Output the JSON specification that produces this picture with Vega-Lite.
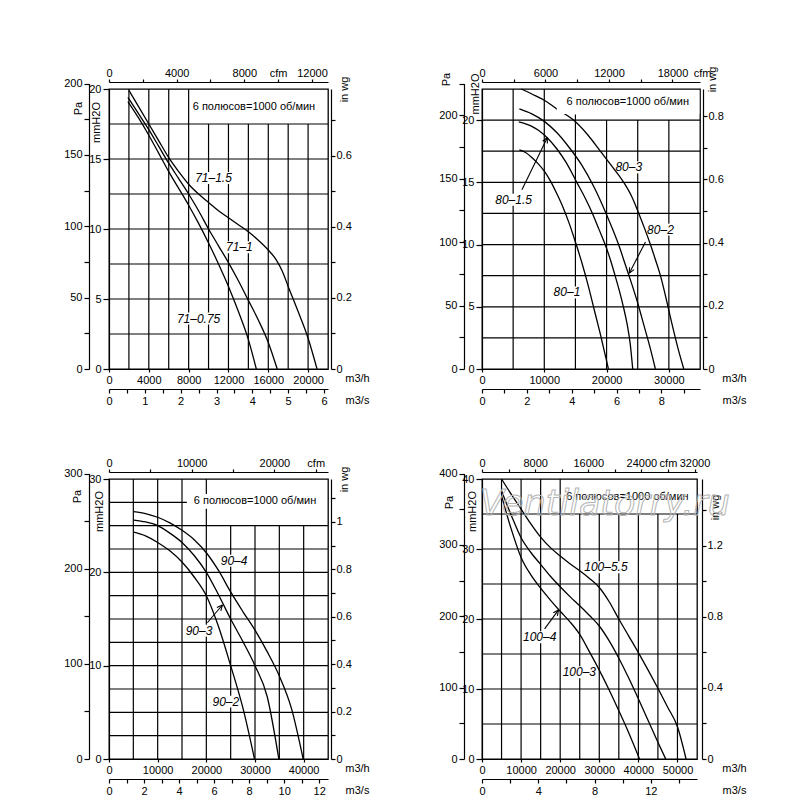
{
  "$schema": "https://vega.github.io/schema/vega-lite/v6.json",
  "padding": {"left": 62, "top": 65, "right": 5, "bottom": 5},
  "background": "white",
  "config": {
    "font": "Liberation Sans",
    "view": {"stroke": "black", "strokeWidth": 1.3},
    "axis": {
      "grid": false, "domainColor": "black", "tickColor": "black", "labelColor": "black", "titleColor": "black",
      "labelFont": "Liberation Sans", "titleFont": "Liberation Sans", "labelFontSize": 11, "titleFontSize": 11,
      "titleFontWeight": "normal", "labelFlush": false, "labelOverlap": false, "domainWidth": 1.2, "tickWidth": 1.2,
      "titleAlign": "center", "titleBaseline": "middle"
    },
    "text": {"font": "Liberation Sans", "color": "black"}
  },
  "datasets": {
    "ax": [{"v": 0, "w": 0}],
    "p1v": [
      {"x": 2000, "y1": 0, "y2": 20}, {"x": 4000, "y1": 0, "y2": 20}, {"x": 6000, "y1": 0, "y2": 20}, {"x": 8000, "y1": 0, "y2": 20},
      {"x": 10000, "y1": 0, "y2": 17.5}, {"x": 12000, "y1": 0, "y2": 17.5}, {"x": 14000, "y1": 0, "y2": 17.5},
      {"x": 16000, "y1": 0, "y2": 17.5}, {"x": 18000, "y1": 0, "y2": 17.5}, {"x": 20000, "y1": 0, "y2": 17.5}
    ],
    "p1h": [
      {"y": 2.5, "x1": 0, "x2": 22000}, {"y": 5, "x1": 0, "x2": 22000}, {"y": 7.5, "x1": 0, "x2": 22000}, {"y": 10, "x1": 0, "x2": 22000},
      {"y": 12.5, "x1": 0, "x2": 22000}, {"y": 15, "x1": 0, "x2": 22000}, {"y": 17.5, "x1": 0, "x2": 22000}
    ],
    "p1b": [
      {"x1": 8540, "x2": 12460, "y1": 13.22, "y2": 14.08},
      {"x1": 11643, "x2": 14557, "y1": 8.27, "y2": 9.13},
      {"x1": 6720, "x2": 11280, "y1": 3.17, "y2": 4.03}
    ],
    "p1c": [
      {"c": "a", "q": 2000, "p": 19.9}, {"c": "a", "q": 3000, "p": 18.7}, {"c": "a", "q": 4000, "p": 17.5}, {"c": "a", "q": 5000, "p": 16.3},
      {"c": "a", "q": 6000, "p": 15.1}, {"c": "a", "q": 7000, "p": 14.1}, {"c": "a", "q": 8000, "p": 13.2}, {"c": "a", "q": 9000, "p": 12.5},
      {"c": "a", "q": 10000, "p": 11.9}, {"c": "a", "q": 11000, "p": 11.3}, {"c": "a", "q": 12000, "p": 10.8}, {"c": "a", "q": 13000, "p": 10.3},
      {"c": "a", "q": 14000, "p": 9.8}, {"c": "a", "q": 15000, "p": 9.2}, {"c": "a", "q": 16000, "p": 8.5}, {"c": "a", "q": 16800, "p": 7.8},
      {"c": "a", "q": 17400, "p": 7.0}, {"c": "a", "q": 18000, "p": 5.9}, {"c": "a", "q": 19000, "p": 4.1}, {"c": "a", "q": 20000, "p": 2.2},
      {"c": "a", "q": 20900, "p": 0},
      {"c": "b", "q": 1900, "p": 19.4}, {"c": "b", "q": 3000, "p": 18.2}, {"c": "b", "q": 4000, "p": 17.1}, {"c": "b", "q": 5000, "p": 15.9},
      {"c": "b", "q": 6000, "p": 14.7}, {"c": "b", "q": 7000, "p": 13.6}, {"c": "b", "q": 8000, "p": 12.5}, {"c": "b", "q": 9000, "p": 11.3},
      {"c": "b", "q": 10000, "p": 10.0}, {"c": "b", "q": 11000, "p": 8.8}, {"c": "b", "q": 12000, "p": 7.6}, {"c": "b", "q": 13000, "p": 6.3},
      {"c": "b", "q": 14000, "p": 4.9}, {"c": "b", "q": 15000, "p": 3.5}, {"c": "b", "q": 16000, "p": 1.9}, {"c": "b", "q": 16900, "p": 0},
      {"c": "c", "q": 1900, "p": 19.1}, {"c": "c", "q": 3000, "p": 17.9}, {"c": "c", "q": 4000, "p": 16.7}, {"c": "c", "q": 5000, "p": 15.4},
      {"c": "c", "q": 6000, "p": 14.1}, {"c": "c", "q": 7000, "p": 12.9}, {"c": "c", "q": 8000, "p": 11.7}, {"c": "c", "q": 9000, "p": 10.4},
      {"c": "c", "q": 10000, "p": 9.0}, {"c": "c", "q": 11000, "p": 7.5}, {"c": "c", "q": 12000, "p": 5.9}, {"c": "c", "q": 13000, "p": 4.1},
      {"c": "c", "q": 14000, "p": 2.1}, {"c": "c", "q": 14800, "p": 0}
    ],
    "p1t": [
      {"x": 10500, "y": 13.65, "t": "71–1.5"}, {"x": 13100, "y": 8.7, "t": "71–1"}, {"x": 9000, "y": 3.6, "t": "71–0.75"}
    ],
    "p2v": [
      {"x": 5000, "y1": 0, "y2": 22.5}, {"x": 10000, "y1": 0, "y2": 22.5}, {"x": 15000, "y1": 0, "y2": 20.45},
      {"x": 20000, "y1": 0, "y2": 20}, {"x": 25000, "y1": 0, "y2": 20}, {"x": 30000, "y1": 0, "y2": 20}
    ],
    "p2h": [
      {"y": 2.5, "x1": 0, "x2": 35000}, {"y": 5, "x1": 0, "x2": 35000}, {"y": 7.5, "x1": 0, "x2": 35000}, {"y": 10, "x1": 0, "x2": 35000},
      {"y": 12.5, "x1": 0, "x2": 35000}, {"y": 15, "x1": 0, "x2": 35000}, {"y": 17.5, "x1": 0, "x2": 35000}, {"y": 20, "x1": 0, "x2": 35000}
    ],
    "p2b": [
      {"x1": 21232, "x2": 25888, "y1": 15.72, "y2": 16.68},
      {"x1": 26322, "x2": 30978, "y1": 10.72, "y2": 11.68},
      {"x1": 11312, "x2": 15968, "y1": 5.67, "y2": 6.63},
      {"x1": 1945, "x2": 8205, "y1": 13.12, "y2": 14.08}
    ],
    "p2m": [{"x1": 12000, "x2": 34900, "y1": 20.5, "y2": 22.4}],
    "p2c": [
      {"c": "a", "q": 6300, "p": 22.5}, {"c": "a", "q": 8000, "p": 22.1}, {"c": "a", "q": 10000, "p": 21.6}, {"c": "a", "q": 12000, "p": 20.9},
      {"c": "a", "q": 14700, "p": 20.0}, {"c": "a", "q": 17000, "p": 18.8}, {"c": "a", "q": 19000, "p": 17.5}, {"c": "a", "q": 21000, "p": 16.2},
      {"c": "a", "q": 22750, "p": 15.0}, {"c": "a", "q": 24000, "p": 13.9}, {"c": "a", "q": 25170, "p": 12.5}, {"c": "a", "q": 26100, "p": 11.3},
      {"c": "a", "q": 27040, "p": 10.0}, {"c": "a", "q": 27900, "p": 8.7}, {"c": "a", "q": 28650, "p": 7.5}, {"c": "a", "q": 29400, "p": 6.0},
      {"c": "a", "q": 30000, "p": 4.7}, {"c": "a", "q": 30700, "p": 3.2}, {"c": "a", "q": 31500, "p": 1.6}, {"c": "a", "q": 32400, "p": 0},
      {"c": "b", "q": 6000, "p": 20.9}, {"c": "b", "q": 8000, "p": 20.5}, {"c": "b", "q": 10000, "p": 19.9}, {"c": "b", "q": 12000, "p": 19.0},
      {"c": "b", "q": 14000, "p": 17.8}, {"c": "b", "q": 16000, "p": 16.4}, {"c": "b", "q": 18000, "p": 14.6}, {"c": "b", "q": 20000, "p": 12.4},
      {"c": "b", "q": 22000, "p": 9.9}, {"c": "b", "q": 23000, "p": 8.4}, {"c": "b", "q": 24000, "p": 6.9}, {"c": "b", "q": 25000, "p": 5.3},
      {"c": "b", "q": 26000, "p": 3.5}, {"c": "b", "q": 27000, "p": 1.7}, {"c": "b", "q": 27840, "p": 0},
      {"c": "c", "q": 5900, "p": 19.85}, {"c": "c", "q": 7000, "p": 19.7}, {"c": "c", "q": 8000, "p": 19.5}, {"c": "c", "q": 9000, "p": 19.2},
      {"c": "c", "q": 10430, "p": 18.6}, {"c": "c", "q": 12000, "p": 17.7}, {"c": "c", "q": 13500, "p": 16.6}, {"c": "c", "q": 15220, "p": 15.0},
      {"c": "c", "q": 16500, "p": 13.8}, {"c": "c", "q": 17730, "p": 12.5}, {"c": "c", "q": 18800, "p": 11.2}, {"c": "c", "q": 19770, "p": 10.0},
      {"c": "c", "q": 20600, "p": 8.8}, {"c": "c", "q": 21370, "p": 7.5}, {"c": "c", "q": 22100, "p": 6.2}, {"c": "c", "q": 22700, "p": 5.0},
      {"c": "c", "q": 23300, "p": 3.6}, {"c": "c", "q": 23800, "p": 2.0}, {"c": "c", "q": 24200, "p": 0},
      {"c": "d", "q": 6000, "p": 17.6}, {"c": "d", "q": 7000, "p": 17.4}, {"c": "d", "q": 8000, "p": 17.0}, {"c": "d", "q": 9000, "p": 16.5},
      {"c": "d", "q": 10000, "p": 15.9}, {"c": "d", "q": 11000, "p": 15.1}, {"c": "d", "q": 12000, "p": 14.1}, {"c": "d", "q": 13000, "p": 13.0},
      {"c": "d", "q": 14000, "p": 11.7}, {"c": "d", "q": 15000, "p": 10.2}, {"c": "d", "q": 16000, "p": 8.6}, {"c": "d", "q": 17000, "p": 6.8},
      {"c": "d", "q": 18000, "p": 4.8}, {"c": "d", "q": 19000, "p": 2.8}, {"c": "d", "q": 20300, "p": 0}
    ],
    "p2a": [
      {"x1": 6410, "y1": 14.4, "x2": 10500, "y2": 18.6}, {"x1": 10500, "y1": 18.6, "x2": 10484, "y2": 18.12}, {"x1": 10500, "y1": 18.6, "x2": 9753, "y2": 18.3},
      {"x1": 26240, "y1": 10.2, "x2": 23650, "y2": 7.7}, {"x1": 23650, "y1": 7.7, "x2": 23692, "y2": 8.18}, {"x1": 23650, "y1": 7.7, "x2": 24413, "y2": 7.99}
    ],
    "p2t": [
      {"x": 23560, "y": 16.2, "t": "80–3"}, {"x": 28650, "y": 11.2, "t": "80–2"}, {"x": 13640, "y": 6.15, "t": "80–1"}, {"x": 5075, "y": 13.6, "t": "80–1.5"}
    ],
    "p3v": [
      {"x": 5000, "y1": 0, "y2": 30}, {"x": 10000, "y1": 0, "y2": 30}, {"x": 15000, "y1": 0, "y2": 30}, {"x": 20000, "y1": 0, "y2": 30},
      {"x": 25000, "y1": 0, "y2": 25}, {"x": 30000, "y1": 0, "y2": 25}, {"x": 35000, "y1": 0, "y2": 25}, {"x": 40000, "y1": 0, "y2": 25}
    ],
    "p3h": [
      {"y": 2.5, "x1": 0, "x2": 45000}, {"y": 5, "x1": 0, "x2": 45000}, {"y": 7.5, "x1": 0, "x2": 45000}, {"y": 10, "x1": 0, "x2": 45000},
      {"y": 12.5, "x1": 0, "x2": 45000}, {"y": 15, "x1": 0, "x2": 45000}, {"y": 17.5, "x1": 0, "x2": 45000}, {"y": 20, "x1": 0, "x2": 45000},
      {"y": 22.5, "x1": 0, "x2": 45000}, {"y": 25, "x1": 0, "x2": 45000}, {"y": 27.5, "x1": 0, "x2": 16000}
    ],
    "p3b": [
      {"x1": 22721, "x2": 28679, "y1": 20.61, "y2": 21.89},
      {"x1": 15511, "x2": 21469, "y1": 13.11, "y2": 14.39},
      {"x1": 21021, "x2": 26979, "y1": 5.51, "y2": 6.79},
      {"x1": 16300, "x2": 43800, "y1": 26.8, "y2": 28.4}
    ],
    "p3c": [
      {"c": "a", "q": 5100, "p": 26.5}, {"c": "a", "q": 7500, "p": 26.3}, {"c": "a", "q": 10000, "p": 25.9}, {"c": "a", "q": 12500, "p": 25.3},
      {"c": "a", "q": 15000, "p": 24.5}, {"c": "a", "q": 17500, "p": 23.5}, {"c": "a", "q": 20000, "p": 22.1}, {"c": "a", "q": 22500, "p": 20.2},
      {"c": "a", "q": 25000, "p": 17.9}, {"c": "a", "q": 27500, "p": 15.8}, {"c": "a", "q": 30000, "p": 13.8}, {"c": "a", "q": 32500, "p": 11.5},
      {"c": "a", "q": 35000, "p": 8.9}, {"c": "a", "q": 37500, "p": 5.4}, {"c": "a", "q": 39900, "p": 0},
      {"c": "b", "q": 5100, "p": 25.6}, {"c": "b", "q": 7500, "p": 25.4}, {"c": "b", "q": 10000, "p": 25.0}, {"c": "b", "q": 12500, "p": 24.2},
      {"c": "b", "q": 15000, "p": 23.2}, {"c": "b", "q": 17500, "p": 21.8}, {"c": "b", "q": 20000, "p": 20.0}, {"c": "b", "q": 22500, "p": 17.6},
      {"c": "b", "q": 25000, "p": 15.0}, {"c": "b", "q": 27500, "p": 12.6}, {"c": "b", "q": 30000, "p": 10.0}, {"c": "b", "q": 32500, "p": 6.7},
      {"c": "b", "q": 34900, "p": 0},
      {"c": "c", "q": 5100, "p": 24.3}, {"c": "c", "q": 7500, "p": 23.9}, {"c": "c", "q": 10000, "p": 23.2}, {"c": "c", "q": 12500, "p": 22.3},
      {"c": "c", "q": 15000, "p": 21.1}, {"c": "c", "q": 17500, "p": 19.5}, {"c": "c", "q": 20000, "p": 17.5}, {"c": "c", "q": 22500, "p": 14.2},
      {"c": "c", "q": 25000, "p": 10.0}, {"c": "c", "q": 27500, "p": 5.5}, {"c": "c", "q": 29900, "p": 0}
    ],
    "p3a": [
      {"x1": 20200, "y1": 14.6, "x2": 23300, "y2": 16.5}, {"x1": 23300, "y1": 16.5, "x2": 22972, "y2": 15.88}, {"x1": 23300, "y1": 16.5, "x2": 22178, "y2": 16.23}
    ],
    "p3t": [
      {"x": 25700, "y": 21.25, "t": "90–4"}, {"x": 18490, "y": 13.75, "t": "90–3"}, {"x": 24000, "y": 6.15, "t": "90–2"}
    ],
    "p4v": [
      {"x": 5000, "y1": 0, "y2": 40}, {"x": 10000, "y1": 0, "y2": 40}, {"x": 15000, "y1": 0, "y2": 40}, {"x": 20000, "y1": 0, "y2": 40},
      {"x": 25000, "y1": 0, "y2": 35}, {"x": 30000, "y1": 0, "y2": 35}, {"x": 35000, "y1": 0, "y2": 35}, {"x": 40000, "y1": 0, "y2": 35},
      {"x": 45000, "y1": 0, "y2": 35}, {"x": 50000, "y1": 0, "y2": 35}
    ],
    "p4h": [
      {"y": 5, "x1": 0, "x2": 55000}, {"y": 10, "x1": 0, "x2": 55000}, {"y": 15, "x1": 0, "x2": 55000}, {"y": 20, "x1": 0, "x2": 55000},
      {"y": 25, "x1": 0, "x2": 55000}, {"y": 30, "x1": 0, "x2": 55000}, {"y": 35, "x1": 0, "x2": 55000}
    ],
    "p4b": [
      {"x1": 25893, "x2": 37507, "y1": 26.54, "y2": 28.26},
      {"x1": 10222, "x2": 19278, "y1": 16.54, "y2": 18.26},
      {"x1": 20372, "x2": 29428, "y1": 11.54, "y2": 13.26}
    ],
    "p4c": [
      {"c": "a", "q": 5000, "p": 40.0}, {"c": "a", "q": 7500, "p": 37.8}, {"c": "a", "q": 10000, "p": 35.7}, {"c": "a", "q": 12500, "p": 33.6},
      {"c": "a", "q": 15000, "p": 31.7}, {"c": "a", "q": 17500, "p": 30.2}, {"c": "a", "q": 20000, "p": 29.0}, {"c": "a", "q": 22500, "p": 27.9},
      {"c": "a", "q": 25000, "p": 26.9}, {"c": "a", "q": 27500, "p": 25.8}, {"c": "a", "q": 30000, "p": 24.5}, {"c": "a", "q": 32500, "p": 22.5},
      {"c": "a", "q": 35000, "p": 20.0}, {"c": "a", "q": 37500, "p": 17.6}, {"c": "a", "q": 40000, "p": 15.2}, {"c": "a", "q": 42500, "p": 12.7},
      {"c": "a", "q": 45000, "p": 10.1}, {"c": "a", "q": 47500, "p": 7.4}, {"c": "a", "q": 50000, "p": 4.6}, {"c": "a", "q": 52200, "p": 0},
      {"c": "b", "q": 5000, "p": 38.3}, {"c": "b", "q": 7500, "p": 34.8}, {"c": "b", "q": 10000, "p": 31.6}, {"c": "b", "q": 12500, "p": 29.5},
      {"c": "b", "q": 15000, "p": 27.8}, {"c": "b", "q": 17500, "p": 26.1}, {"c": "b", "q": 20000, "p": 24.6}, {"c": "b", "q": 22500, "p": 23.2},
      {"c": "b", "q": 25000, "p": 21.9}, {"c": "b", "q": 27500, "p": 20.5}, {"c": "b", "q": 30000, "p": 19.0}, {"c": "b", "q": 32500, "p": 16.9},
      {"c": "b", "q": 35000, "p": 14.4}, {"c": "b", "q": 37500, "p": 11.6}, {"c": "b", "q": 40000, "p": 8.6}, {"c": "b", "q": 42500, "p": 5.5},
      {"c": "b", "q": 45000, "p": 2.4}, {"c": "b", "q": 47000, "p": 0},
      {"c": "c", "q": 5000, "p": 37.6}, {"c": "c", "q": 7500, "p": 32.8}, {"c": "c", "q": 10000, "p": 28.8}, {"c": "c", "q": 12500, "p": 26.3},
      {"c": "c", "q": 15000, "p": 24.4}, {"c": "c", "q": 17500, "p": 22.7}, {"c": "c", "q": 20000, "p": 21.1}, {"c": "c", "q": 22500, "p": 19.6},
      {"c": "c", "q": 25000, "p": 17.8}, {"c": "c", "q": 27500, "p": 15.3}, {"c": "c", "q": 30000, "p": 12.7}, {"c": "c", "q": 32500, "p": 9.9},
      {"c": "c", "q": 35000, "p": 6.9}, {"c": "c", "q": 37500, "p": 3.8}, {"c": "c", "q": 40300, "p": 0}
    ],
    "p4a": [
      {"x1": 16020, "y1": 18.6, "x2": 19580, "y2": 21.3}, {"x1": 19580, "y1": 21.3, "x2": 19281, "y2": 20.46}, {"x1": 19580, "y1": 21.3, "x2": 18234, "y2": 20.89}
    ],
    "p4t": [
      {"x": 31700, "y": 27.4, "t": "100–5.5"}, {"x": 14750, "y": 17.4, "t": "100–4"}, {"x": 24900, "y": 12.4, "t": "100–3"}
    ]
  },
  "spacing": 390,
  "bounds": "flush",
  "vconcat": [
    {
      "spacing": 154,
      "bounds": "flush",
      "hconcat": [
        {
          "width": 219, "height": 280,
          "layer": [
            {"data": {"name": "p1v"}, "mark": {"type": "rule", "color": "black", "strokeWidth": 1.2},
              "encoding": {
                "x": {"field": "x", "type": "quantitative", "scale": {"domain": [0, 22000], "nice": false},
                  "axis": {"orient": "bottom", "title": "m3/h", "values": [0, 4000, 8000, 12000, 16000, 20000], "format": "d", "tickSize": 3, "labelPadding": 2, "titleX": 248, "titleY": 9}},
                "y": {"field": "y1", "type": "quantitative", "scale": {"domain": [0, 20], "nice": false},
                  "axis": {"orient": "left", "title": "mmH2O", "values": [0, 5, 10, 15, 20], "format": "d", "tickSize": 6, "labelPadding": 2, "titleAngle": 270, "titleX": -12.7, "titleY": 33}},
                "y2": {"field": "y2"}}},
            {"data": {"name": "p1h"}, "mark": {"type": "rule", "color": "black", "strokeWidth": 1.2},
              "encoding": {
                "x": {"field": "x1", "type": "quantitative", "scale": {"domain": [0, 22000], "nice": false}, "axis": null},
                "x2": {"field": "x2"},
                "y": {"field": "y", "type": "quantitative", "scale": {"domain": [0, 20], "nice": false}, "axis": null}}},
            {"data": {"name": "p1b"}, "mark": {"type": "rect", "color": "white"},
              "encoding": {
                "x": {"field": "x1", "type": "quantitative", "scale": {"domain": [0, 22000], "nice": false}, "axis": null},
                "x2": {"field": "x2"},
                "y": {"field": "y1", "type": "quantitative", "scale": {"domain": [0, 20], "nice": false}, "axis": null},
                "y2": {"field": "y2"}}},
            {"data": {"name": "p1c"}, "mark": {"type": "line", "color": "black", "strokeWidth": 1.3, "interpolate": "monotone"},
              "encoding": {
                "x": {"field": "q", "type": "quantitative", "scale": {"domain": [0, 22000], "nice": false}, "axis": null},
                "y": {"field": "p", "type": "quantitative", "scale": {"domain": [0, 20], "nice": false}, "axis": null},
                "detail": {"field": "c", "type": "nominal"}}},
            {"data": {"name": "p1t"}, "mark": {"type": "text", "fontStyle": "italic", "fontSize": 12},
              "encoding": {
                "x": {"field": "x", "type": "quantitative", "scale": {"domain": [0, 22000], "nice": false}, "axis": null},
                "y": {"field": "y", "type": "quantitative", "scale": {"domain": [0, 20], "nice": false}, "axis": null},
                "text": {"field": "t"}}},
            {"data": {"values": [{"x": 14560, "y": 18.75, "t": "6 полюсов=1000 об/мин"}]}, "mark": {"type": "text", "fontSize": 11},
              "encoding": {
                "x": {"field": "x", "type": "quantitative", "scale": {"domain": [0, 22000], "nice": false}, "axis": null},
                "y": {"field": "y", "type": "quantitative", "scale": {"domain": [0, 20], "nice": false}, "axis": null},
                "text": {"field": "t"}}},
            {"data": {"name": "ax"}, "mark": {"type": "point", "opacity": 0},
              "encoding": {
                "x": {"field": "w", "type": "quantitative", "scale": {"domain": [0, 1]}, "axis": null},
                "y": {"field": "v", "type": "quantitative", "scale": {"domain": [0, 200], "range": [280, -5.5], "nice": false},
                "axis": {"orient": "left", "offset": 20, "title": "Pa", "values": [0, 25, 50, 75, 100, 125, 150, 175, 200], "format": "d", "labelExpr": "datum.value % 50 == 0 ? datum.label : ''", "tickSize": 5, "labelPadding": 2, "titleAngle": 270, "titleX": -10.5, "titleY": 19}}}},
            {"data": {"name": "ax"}, "mark": {"type": "point", "opacity": 0},
              "encoding": {
                "x": {"field": "w", "type": "quantitative", "scale": {"domain": [0, 1]}, "axis": null},
                "y": {"field": "v", "type": "quantitative", "scale": {"domain": [0, 0.7874], "nice": false},
                "axis": {"orient": "right", "offset": 3, "title": "in wg", "values": [0, 0.1, 0.2, 0.3, 0.4, 0.5, 0.6, 0.7], "format": "~g", "labelExpr": "round(datum.value * 10) % 2 == 0 ? datum.label : ''", "tickSize": 4, "labelPadding": 1, "titleAngle": 270, "titleX": 13, "titleY": 0}}}},
            {"data": {"name": "ax"}, "mark": {"type": "point", "opacity": 0},
              "encoding": {
                "y": {"field": "w", "type": "quantitative", "scale": {"domain": [0, 1]}, "axis": null},
                "x": {"field": "v", "type": "quantitative", "scale": {"domain": [0, 12948.7], "nice": false},
                "axis": {"orient": "top", "offset": 7, "title": null, "values": [0, 2000, 4000, 6000, 8000, 10000, 12000], "format": "d", "labelExpr": "datum.value == 10000 ? 'cfm' : (datum.value % 4000 == 0 ? datum.label : '')", "tickSize": 3, "labelPadding": 1}}}},
            {"data": {"name": "ax"}, "mark": {"type": "point", "opacity": 0},
              "encoding": {
                "y": {"field": "w", "type": "quantitative", "scale": {"domain": [0, 1]}, "axis": null},
                "x": {"field": "v", "type": "quantitative", "scale": {"domain": [0, 6.1111], "nice": false},
                "axis": {"orient": "bottom", "offset": 20, "title": "m3/s", "values": [0, 0.5, 1, 1.5, 2, 2.5, 3, 3.5, 4, 4.5, 5, 5.5, 6], "format": "~g", "labelExpr": "datum.value % 1 == 0 ? datum.label : ''", "tickSize": 4, "labelPadding": 2, "titleX": 248, "titleY": 11}}}}
          ],
          "resolve": {"scale": {"x": "independent", "y": "independent"}, "axis": {"x": "independent", "y": "independent"}}
        },
        {
          "width": 218, "height": 280,
          "layer": [
            {"data": {"name": "p2v"}, "mark": {"type": "rule", "color": "black", "strokeWidth": 1.2},
              "encoding": {
                "x": {"field": "x", "type": "quantitative", "scale": {"domain": [0, 35000], "nice": false},
                  "axis": {"orient": "bottom", "title": "m3/h", "values": [0, 10000, 20000, 30000], "format": "d", "tickSize": 3, "labelPadding": 2, "titleX": 252, "titleY": 9}},
                "y": {"field": "y1", "type": "quantitative", "scale": {"domain": [0, 22.5], "nice": false},
                  "axis": {"orient": "left", "title": "mmH2O", "values": [0, 5, 10, 15, 20], "format": "d", "tickSize": 6, "labelPadding": 2, "titleAngle": 270, "titleX": -6.7, "titleY": 4.5}},
                "y2": {"field": "y2"}}},
            {"data": {"name": "p2h"}, "mark": {"type": "rule", "color": "black", "strokeWidth": 1.2},
              "encoding": {
                "x": {"field": "x1", "type": "quantitative", "scale": {"domain": [0, 35000], "nice": false}, "axis": null},
                "x2": {"field": "x2"},
                "y": {"field": "y", "type": "quantitative", "scale": {"domain": [0, 22.5], "nice": false}, "axis": null}}},
            {"data": {"name": "p2b"}, "mark": {"type": "rect", "color": "white"},
              "encoding": {
                "x": {"field": "x1", "type": "quantitative", "scale": {"domain": [0, 35000], "nice": false}, "axis": null},
                "x2": {"field": "x2"},
                "y": {"field": "y1", "type": "quantitative", "scale": {"domain": [0, 22.5], "nice": false}, "axis": null},
                "y2": {"field": "y2"}}},
            {"data": {"name": "p2c"}, "mark": {"type": "line", "color": "black", "strokeWidth": 1.3, "interpolate": "monotone"},
              "encoding": {
                "x": {"field": "q", "type": "quantitative", "scale": {"domain": [0, 35000], "nice": false}, "axis": null},
                "y": {"field": "p", "type": "quantitative", "scale": {"domain": [0, 22.5], "nice": false}, "axis": null},
                "detail": {"field": "c", "type": "nominal"}}},
            {"data": {"name": "p2m"}, "mark": {"type": "rect", "color": "white"},
              "encoding": {
                "x": {"field": "x1", "type": "quantitative", "scale": {"domain": [0, 35000], "nice": false}, "axis": null},
                "x2": {"field": "x2"},
                "y": {"field": "y1", "type": "quantitative", "scale": {"domain": [0, 22.5], "nice": false}, "axis": null},
                "y2": {"field": "y2"}}},
            {"data": {"name": "p2a"}, "mark": {"type": "rule", "color": "black", "strokeWidth": 1.1},
              "encoding": {
                "x": {"field": "x1", "type": "quantitative", "scale": {"domain": [0, 35000], "nice": false}, "axis": null},
                "x2": {"field": "x2"},
                "y": {"field": "y1", "type": "quantitative", "scale": {"domain": [0, 22.5], "nice": false}, "axis": null},
                "y2": {"field": "y2"}}},
            {"data": {"name": "p2t"}, "mark": {"type": "text", "fontStyle": "italic", "fontSize": 12},
              "encoding": {
                "x": {"field": "x", "type": "quantitative", "scale": {"domain": [0, 35000], "nice": false}, "axis": null},
                "y": {"field": "y", "type": "quantitative", "scale": {"domain": [0, 22.5], "nice": false}, "axis": null},
                "text": {"field": "t"}}},
            {"data": {"values": [{"x": 23400, "y": 21.45, "t": "6 полюсов=1000 об/мин"}]}, "mark": {"type": "text", "fontSize": 11},
              "encoding": {
                "x": {"field": "x", "type": "quantitative", "scale": {"domain": [0, 35000], "nice": false}, "axis": null},
                "y": {"field": "y", "type": "quantitative", "scale": {"domain": [0, 22.5], "nice": false}, "axis": null},
                "text": {"field": "t"}}},
            {"data": {"name": "ax"}, "mark": {"type": "point", "opacity": 0},
              "encoding": {
                "x": {"field": "w", "type": "quantitative", "scale": {"domain": [0, 1]}, "axis": null},
                "y": {"field": "v", "type": "quantitative", "scale": {"domain": [0, 225], "range": [280, -5.5], "nice": false},
                "axis": {"orient": "left", "offset": 18, "title": "Pa", "values": [0, 25, 50, 75, 100, 125, 150, 175, 200, 225], "format": "d", "labelExpr": "datum.value % 50 == 0 ? datum.label : ''", "tickSize": 5, "labelPadding": 2, "titleAngle": 270, "titleX": -18, "titleY": -10}}}},
            {"data": {"name": "ax"}, "mark": {"type": "point", "opacity": 0},
              "encoding": {
                "x": {"field": "w", "type": "quantitative", "scale": {"domain": [0, 1]}, "axis": null},
                "y": {"field": "v", "type": "quantitative", "scale": {"domain": [0, 0.8858], "nice": false},
                "axis": {"orient": "right", "offset": 3, "title": "in wg", "values": [0, 0.1, 0.2, 0.3, 0.4, 0.5, 0.6, 0.7, 0.8], "format": "~g", "labelExpr": "round(datum.value * 10) % 2 == 0 ? datum.label : ''", "tickSize": 4, "labelPadding": 1, "titleAngle": 270, "titleX": 9, "titleY": -10}}}},
            {"data": {"name": "ax"}, "mark": {"type": "point", "opacity": 0},
              "encoding": {
                "y": {"field": "w", "type": "quantitative", "scale": {"domain": [0, 1]}, "axis": null},
                "x": {"field": "v", "type": "quantitative", "scale": {"domain": [0, 20600.2], "nice": false},
                "axis": {"orient": "top", "offset": 7, "title": "cfm", "titleX": 220, "titleY": -4, "titleBaseline": "bottom", "values": [0, 3000, 6000, 9000, 12000, 15000, 18000], "format": "d", "labelExpr": "datum.value % 6000 == 0 ? datum.label : ''", "tickSize": 3, "labelPadding": 1}}}},
            {"data": {"name": "ax"}, "mark": {"type": "point", "opacity": 0},
              "encoding": {
                "y": {"field": "w", "type": "quantitative", "scale": {"domain": [0, 1]}, "axis": null},
                "x": {"field": "v", "type": "quantitative", "scale": {"domain": [0, 9.7222], "nice": false},
                "axis": {"orient": "bottom", "offset": 20, "title": "m3/s", "values": [0, 1, 2, 3, 4, 5, 6, 7, 8, 9], "format": "~g", "labelExpr": "datum.value % 2 == 0 ? datum.label : ''", "tickSize": 4, "labelPadding": 2, "titleX": 252, "titleY": 11}}}}
          ],
          "resolve": {"scale": {"x": "independent", "y": "independent"}, "axis": {"x": "independent", "y": "independent"}}
        }
      ]
    },
    {
      "spacing": 154,
      "bounds": "flush",
      "hconcat": [
        {
          "width": 219, "height": 280,
          "layer": [
            {"data": {"name": "p3v"}, "mark": {"type": "rule", "color": "black", "strokeWidth": 1.2},
              "encoding": {
                "x": {"field": "x", "type": "quantitative", "scale": {"domain": [0, 45000], "nice": false},
                  "axis": {"orient": "bottom", "title": "m3/h", "values": [0, 10000, 20000, 30000, 40000], "format": "d", "tickSize": 3, "labelPadding": 2, "titleX": 248, "titleY": 9}},
                "y": {"field": "y1", "type": "quantitative", "scale": {"domain": [0, 30], "nice": false},
                  "axis": {"orient": "left", "title": "mmH2O", "values": [0, 10, 20, 30], "format": "d", "tickSize": 6, "labelPadding": 2, "titleAngle": 270, "titleX": -9.7, "titleY": 32}},
                "y2": {"field": "y2"}}},
            {"data": {"name": "p3h"}, "mark": {"type": "rule", "color": "black", "strokeWidth": 1.2},
              "encoding": {
                "x": {"field": "x1", "type": "quantitative", "scale": {"domain": [0, 45000], "nice": false}, "axis": null},
                "x2": {"field": "x2"},
                "y": {"field": "y", "type": "quantitative", "scale": {"domain": [0, 30], "nice": false}, "axis": null}}},
            {"data": {"name": "p3b"}, "mark": {"type": "rect", "color": "white"},
              "encoding": {
                "x": {"field": "x1", "type": "quantitative", "scale": {"domain": [0, 45000], "nice": false}, "axis": null},
                "x2": {"field": "x2"},
                "y": {"field": "y1", "type": "quantitative", "scale": {"domain": [0, 30], "nice": false}, "axis": null},
                "y2": {"field": "y2"}}},
            {"data": {"name": "p3c"}, "mark": {"type": "line", "color": "black", "strokeWidth": 1.3, "interpolate": "monotone"},
              "encoding": {
                "x": {"field": "q", "type": "quantitative", "scale": {"domain": [0, 45000], "nice": false}, "axis": null},
                "y": {"field": "p", "type": "quantitative", "scale": {"domain": [0, 30], "nice": false}, "axis": null},
                "detail": {"field": "c", "type": "nominal"}}},
            {"data": {"name": "p3a"}, "mark": {"type": "rule", "color": "black", "strokeWidth": 1.1},
              "encoding": {
                "x": {"field": "x1", "type": "quantitative", "scale": {"domain": [0, 45000], "nice": false}, "axis": null},
                "x2": {"field": "x2"},
                "y": {"field": "y1", "type": "quantitative", "scale": {"domain": [0, 30], "nice": false}, "axis": null},
                "y2": {"field": "y2"}}},
            {"data": {"name": "p3t"}, "mark": {"type": "text", "fontStyle": "italic", "fontSize": 12},
              "encoding": {
                "x": {"field": "x", "type": "quantitative", "scale": {"domain": [0, 45000], "nice": false}, "axis": null},
                "y": {"field": "y", "type": "quantitative", "scale": {"domain": [0, 30], "nice": false}, "axis": null},
                "text": {"field": "t"}}},
            {"data": {"values": [{"x": 30000, "y": 27.6, "t": "6 полюсов=1000 об/мин"}]}, "mark": {"type": "text", "fontSize": 11},
              "encoding": {
                "x": {"field": "x", "type": "quantitative", "scale": {"domain": [0, 45000], "nice": false}, "axis": null},
                "y": {"field": "y", "type": "quantitative", "scale": {"domain": [0, 30], "nice": false}, "axis": null},
                "text": {"field": "t"}}},
            {"data": {"name": "ax"}, "mark": {"type": "point", "opacity": 0},
              "encoding": {
                "x": {"field": "w", "type": "quantitative", "scale": {"domain": [0, 1]}, "axis": null},
                "y": {"field": "v", "type": "quantitative", "scale": {"domain": [0, 300], "range": [280, -5.5], "nice": false},
                "axis": {"orient": "left", "offset": 20, "title": "Pa", "values": [0, 50, 100, 150, 200, 250, 300], "format": "d", "labelExpr": "datum.value % 100 == 0 ? datum.label : ''", "tickSize": 5, "labelPadding": 2, "titleAngle": 270, "titleX": -12, "titleY": 17}}}},
            {"data": {"name": "ax"}, "mark": {"type": "point", "opacity": 0},
              "encoding": {
                "x": {"field": "w", "type": "quantitative", "scale": {"domain": [0, 1]}, "axis": null},
                "y": {"field": "v", "type": "quantitative", "scale": {"domain": [0, 1.1811], "nice": false},
                "axis": {"orient": "right", "offset": 3, "title": "in wg", "values": [0, 0.1, 0.2, 0.3, 0.4, 0.5, 0.6, 0.7, 0.8, 0.9, 1, 1.1], "format": "~g", "labelExpr": "round(datum.value * 10) % 2 == 0 ? datum.label : ''", "tickSize": 4, "labelPadding": 1, "titleAngle": 270, "titleX": 13, "titleY": 0}}}},
            {"data": {"name": "ax"}, "mark": {"type": "point", "opacity": 0},
              "encoding": {
                "y": {"field": "w", "type": "quantitative", "scale": {"domain": [0, 1]}, "axis": null},
                "x": {"field": "v", "type": "quantitative", "scale": {"domain": [0, 26485.9], "nice": false},
                "axis": {"orient": "top", "offset": 7, "title": null, "values": [0, 5000, 10000, 15000, 20000, 25000], "format": "d", "labelExpr": "datum.value == 25000 ? 'cfm' : (datum.value % 10000 == 0 ? datum.label : '')", "tickSize": 3, "labelPadding": 1}}}},
            {"data": {"name": "ax"}, "mark": {"type": "point", "opacity": 0},
              "encoding": {
                "y": {"field": "w", "type": "quantitative", "scale": {"domain": [0, 1]}, "axis": null},
                "x": {"field": "v", "type": "quantitative", "scale": {"domain": [0, 12.5], "nice": false},
                "axis": {"orient": "bottom", "offset": 20, "title": "m3/s", "values": [0, 1, 2, 3, 4, 5, 6, 7, 8, 9, 10, 11, 12], "format": "~g", "labelExpr": "datum.value % 2 == 0 ? datum.label : ''", "tickSize": 4, "labelPadding": 2, "titleX": 248, "titleY": 11}}}}
          ],
          "resolve": {"scale": {"x": "independent", "y": "independent"}, "axis": {"x": "independent", "y": "independent"}}
        },
        {
          "width": 215, "height": 280,
          "layer": [
            {"data": {"name": "p4v"}, "mark": {"type": "rule", "color": "black", "strokeWidth": 1.2},
              "encoding": {
                "x": {"field": "x", "type": "quantitative", "scale": {"domain": [0, 55000], "nice": false},
                  "axis": {"orient": "bottom", "title": "m3/h", "values": [0, 10000, 20000, 30000, 40000, 50000], "format": "d", "tickSize": 3, "labelPadding": 2, "titleX": 252, "titleY": 9}},
                "y": {"field": "y1", "type": "quantitative", "scale": {"domain": [0, 40], "nice": false},
                  "axis": {"orient": "left", "title": "mmH2O", "values": [0, 10, 20, 30, 40], "format": "d", "tickSize": 6, "labelPadding": 2, "titleAngle": 270, "titleX": -9.3, "titleY": 32}},
                "y2": {"field": "y2"}}},
            {"data": {"name": "p4h"}, "mark": {"type": "rule", "color": "black", "strokeWidth": 1.2},
              "encoding": {
                "x": {"field": "x1", "type": "quantitative", "scale": {"domain": [0, 55000], "nice": false}, "axis": null},
                "x2": {"field": "x2"},
                "y": {"field": "y", "type": "quantitative", "scale": {"domain": [0, 40], "nice": false}, "axis": null}}},
            {"data": {"name": "p4b"}, "mark": {"type": "rect", "color": "white"},
              "encoding": {
                "x": {"field": "x1", "type": "quantitative", "scale": {"domain": [0, 55000], "nice": false}, "axis": null},
                "x2": {"field": "x2"},
                "y": {"field": "y1", "type": "quantitative", "scale": {"domain": [0, 40], "nice": false}, "axis": null},
                "y2": {"field": "y2"}}},
            {"data": {"name": "p4c"}, "mark": {"type": "line", "color": "black", "strokeWidth": 1.3, "interpolate": "monotone"},
              "encoding": {
                "x": {"field": "q", "type": "quantitative", "scale": {"domain": [0, 55000], "nice": false}, "axis": null},
                "y": {"field": "p", "type": "quantitative", "scale": {"domain": [0, 40], "nice": false}, "axis": null},
                "detail": {"field": "c", "type": "nominal"}}},
            {"data": {"name": "p4a"}, "mark": {"type": "rule", "color": "black", "strokeWidth": 1.1},
              "encoding": {
                "x": {"field": "x1", "type": "quantitative", "scale": {"domain": [0, 55000], "nice": false}, "axis": null},
                "x2": {"field": "x2"},
                "y": {"field": "y1", "type": "quantitative", "scale": {"domain": [0, 40], "nice": false}, "axis": null},
                "y2": {"field": "y2"}}},
            {"data": {"name": "p4t"}, "mark": {"type": "text", "fontStyle": "italic", "fontSize": 12},
              "encoding": {
                "x": {"field": "x", "type": "quantitative", "scale": {"domain": [0, 55000], "nice": false}, "axis": null},
                "y": {"field": "y", "type": "quantitative", "scale": {"domain": [0, 40], "nice": false}, "axis": null},
                "text": {"field": "t"}}},
            {"data": {"values": [{"x": 37200, "y": 37.5, "t": "6 полюсов=1000 об/мин"}]}, "mark": {"type": "text", "fontSize": 11},
              "encoding": {
                "x": {"field": "x", "type": "quantitative", "scale": {"domain": [0, 55000], "nice": false}, "axis": null},
                "y": {"field": "y", "type": "quantitative", "scale": {"domain": [0, 40], "nice": false}, "axis": null},
                "text": {"field": "t"}}},
            {"data": {"values": [{"x": 31470, "y": 36.4, "t": "Ventilatorry.ru"}]}, "mark": {"type": "text", "font": "DejaVu Sans", "fontStyle": "italic", "fontSize": 35, "fill": "transparent", "stroke": "#b4b4b4", "strokeWidth": 1},
              "encoding": {
                "x": {"field": "x", "type": "quantitative", "scale": {"domain": [0, 55000], "nice": false}, "axis": null},
                "y": {"field": "y", "type": "quantitative", "scale": {"domain": [0, 40], "nice": false}, "axis": null},
                "text": {"field": "t"}}},
            {"data": {"name": "ax"}, "mark": {"type": "point", "opacity": 0},
              "encoding": {
                "x": {"field": "w", "type": "quantitative", "scale": {"domain": [0, 1]}, "axis": null},
                "y": {"field": "v", "type": "quantitative", "scale": {"domain": [0, 400], "range": [280, -5.5], "nice": false},
                "axis": {"orient": "left", "offset": 18, "title": "Pa", "values": [0, 50, 100, 150, 200, 250, 300, 350, 400], "format": "d", "labelExpr": "datum.value % 100 == 0 ? datum.label : ''", "tickSize": 5, "labelPadding": 2, "titleAngle": 270, "titleX": -15, "titleY": 23}}}},
            {"data": {"name": "ax"}, "mark": {"type": "point", "opacity": 0},
              "encoding": {
                "x": {"field": "w", "type": "quantitative", "scale": {"domain": [0, 1]}, "axis": null},
                "y": {"field": "v", "type": "quantitative", "scale": {"domain": [0, 1.5748], "nice": false},
                "axis": {"orient": "right", "offset": 5, "title": "in wg", "values": [0, 0.2, 0.4, 0.6, 0.8, 1, 1.2, 1.4], "format": "~g", "labelExpr": "round(datum.value * 10) % 4 == 0 ? datum.label : ''", "tickSize": 4, "labelPadding": 1, "titleAngle": 270, "titleX": 13, "titleY": 28}}}},
            {"data": {"name": "ax"}, "mark": {"type": "point", "opacity": 0},
              "encoding": {
                "y": {"field": "w", "type": "quantitative", "scale": {"domain": [0, 1]}, "axis": null},
                "x": {"field": "v", "type": "quantitative", "scale": {"domain": [0, 32371.8], "nice": false},
                "axis": {"orient": "top", "offset": 7, "title": null, "values": [0, 4000, 8000, 12000, 16000, 20000, 24000, 28000, 32000], "format": "d", "labelExpr": "datum.value == 28000 ? 'cfm' : (datum.value % 8000 == 0 ? datum.label : '')", "tickSize": 3, "labelPadding": 1}}}},
            {"data": {"name": "ax"}, "mark": {"type": "point", "opacity": 0},
              "encoding": {
                "y": {"field": "w", "type": "quantitative", "scale": {"domain": [0, 1]}, "axis": null},
                "x": {"field": "v", "type": "quantitative", "scale": {"domain": [0, 15.2778], "nice": false},
                "axis": {"orient": "bottom", "offset": 20, "title": "m3/s", "values": [0, 2, 4, 6, 8, 10, 12, 14], "format": "~g", "labelExpr": "datum.value % 4 == 0 ? datum.label : ''", "tickSize": 4, "labelPadding": 2, "titleX": 252, "titleY": 11}}}}
          ],
          "resolve": {"scale": {"x": "independent", "y": "independent"}, "axis": {"x": "independent", "y": "independent"}}
        }
      ]
    }
  ]
}
